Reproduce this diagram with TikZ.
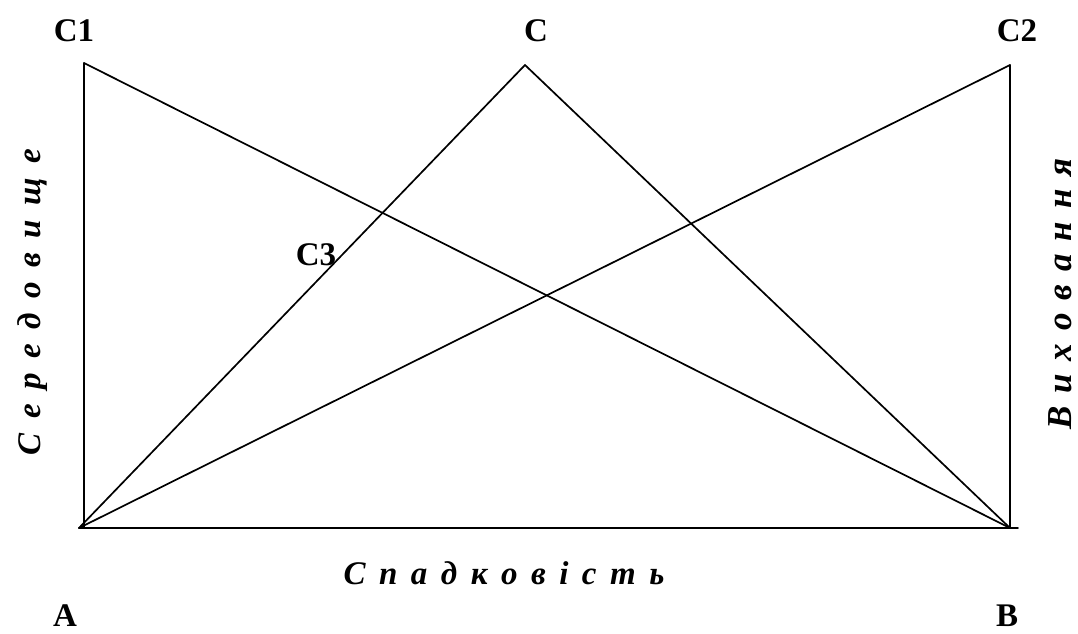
\documentclass[tikz,border=0pt]{standalone}
\usepackage{fontspec}
\setmainfont{Liberation Serif}
\begin{document}
\begin{tikzpicture}[x=1pt,y=-1pt,
  edge/.style={line width=1.7pt,line cap=round,line join=round},
  vlabel/.style={font=\fontsize{33}{36}\selectfont\bfseries,inner sep=0pt,anchor=base},
  sidetext/.style={font=\fontsize{33}{36}\selectfont\bfseries\itshape,inner sep=0pt}]
\useasboundingbox (0,0) rectangle (1078,633);
% vertices
\coordinate (A) at (79,528);
\coordinate (B) at (1010,528);
\coordinate (Bend) at (1018,528);
\coordinate (Abot) at (84,527);
\coordinate (C1) at (84,63);
\coordinate (C) at (525,65);
\coordinate (C2) at (1010,65);
% frame
\draw[edge] (C1) -- (Abot);
\draw[edge] (C2) -- (B);
\draw[edge] (A) -- (Bend);
% diagonals
\draw[edge] (C1) -- (B);
\draw[edge] (C) -- (A);
\draw[edge] (C) -- (B);
\draw[edge] (C2) -- (A);
% labels
\node[vlabel] (lC1) at (74,41) {C1};
\node[vlabel] (lC) at (536,41) {C};
\node[vlabel] (lC2) at (1017,41) {C2};
\node[vlabel] (lC3) at (316,265) {C3};
\node[vlabel] (lA) at (65,626) {A};
\node[vlabel] (lB) at (1007,626) {B};
% side texts
\node[sidetext,rotate=90] (env) at (33,302) {\spaceskip=14.5pt С е р е д о в и щ е};
\node[sidetext,rotate=90,font=\fontsize{35}{38}\selectfont\bfseries\itshape] (edu) at (1060,294) {\spaceskip=13pt В и х о в а н н я};
\node[sidetext] (her) at (504,573) {\spaceskip=13.5pt С п а д к о в і с т ь};
\end{tikzpicture}
\end{document}
